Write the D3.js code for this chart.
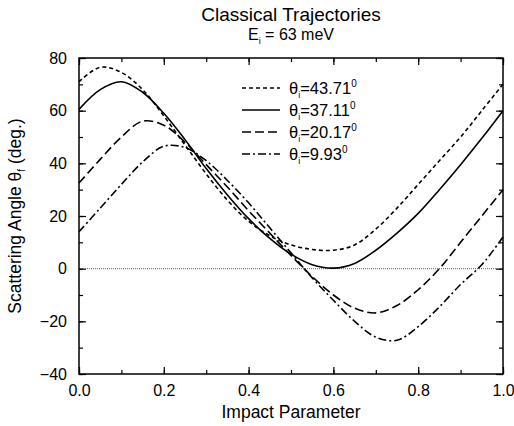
<!DOCTYPE html>
<html>
<head>
<meta charset="utf-8">
<script src="https://cdn.jsdelivr.net/npm/d3@7"></script>
<style>
  body { margin: 0; background: white; }
  text { font-family: "Liberation Sans", Arial, sans-serif; fill: #000; }
</style>
</head>
<body>
<div id="chart"></div>
<script>
// impact parameter samples
const impact = [0, 0.05, 0.1, 0.15, 0.2, 0.25, 0.3, 0.35, 0.4, 0.45, 0.5, 0.55, 0.6, 0.65, 0.7, 0.75, 0.8, 0.85, 0.9, 0.95, 1.0];

// scattering angle (deg.), one per incidence angle
const theta4371 = [71, 76.5, 74.5, 68, 58, 47, 36, 26, 18, 12.5, 9, 7.3, 7, 9, 15, 23, 32, 41, 50, 60, 70];
const theta3711 = [60.5, 68, 71, 67, 59, 49, 38, 28, 19, 11.5, 5.5, 1.5, 0.2, 2, 7, 13.5, 21, 30, 39.5, 49.5, 60];
const theta2017 = [32.5, 41.5, 50, 56, 54.5, 48, 39.5, 31, 22, 13.5, 5, -3, -10, -15, -16.8, -14, -8, 0, 10, 20, 30];
const theta993 = [14, 23, 32, 40.5, 46.5, 46, 41, 33.5, 25, 15.5, 6, -3.5, -12, -20, -26, -27.2, -22, -14.5, -6, 1.5, 12];

const seriesNames = ["43.71", "37.11", "20.17", "9.93"];
const seriesValues = [theta4371, theta3711, theta2017, theta993];
const dashes = ["4,3", null, "9,4", "8,3,2,3"];

const xTicks = [0, 0.2, 0.4, 0.6, 0.8, 1.0];
const yTicks = [-40, -20, 0, 20, 40, 60, 80];

const width = 514, height = 426;
const margin = {top: 58, right: 11, bottom: 52, left: 79};

const svg = d3.select("#chart").append("svg")
    .attr("width", width).attr("height", height);

const x = d3.scaleLinear().domain([0, 1]).range([margin.left, width - margin.right]);
const y = d3.scaleLinear().domain([-40, 80]).range([height - margin.bottom, margin.top]);

const xMinor = d3.range(0, 1.0001, 0.1);
const yMinor = d3.range(-40, 80.001, 10);

// ticks on all four sides, pointing inward
function tickAxis(axis, scale, vals, size, transform, labels) {
    const a = axis(scale).tickValues(vals).tickSize(-size).tickPadding(8);
    if (!labels) a.tickFormat("");
    const g = svg.append("g").attr("transform", transform).call(a);
    g.select(".domain").remove();
    g.selectAll("line").attr("stroke", "#000").attr("stroke-width", 1.2);
    return g;
}
const bottomY = height - margin.bottom, rightX = width - margin.right;
tickAxis(d3.axisBottom, x, xMinor, 4, `translate(0,${bottomY})`, false);
tickAxis(d3.axisTop, x, xMinor, 4, `translate(0,${margin.top})`, false);
tickAxis(d3.axisLeft, y, yMinor, 4, `translate(${margin.left},0)`, false);
tickAxis(d3.axisRight, y, yMinor, 4, `translate(${rightX},0)`, false);
const xa = tickAxis(d3.axisBottom, x, xTicks, 7, `translate(0,${bottomY})`, true);
xa.selectAll("text").style("font-size", "16px").attr("dy", "0.85em")
    .text(d => d3.format(".1f")(d));
tickAxis(d3.axisTop, x, xTicks, 7, `translate(0,${margin.top})`, false);
const ya = tickAxis(d3.axisLeft, y, yTicks, 7, `translate(${margin.left},0)`, true);
ya.selectAll("text").style("font-size", "16px").attr("x", -12);
tickAxis(d3.axisRight, y, yTicks, 7, `translate(${rightX},0)`, false);

// zero line
svg.append("line")
    .attr("x1", x(0)).attr("x2", x(1)).attr("y1", y(0)).attr("y2", y(0))
    .attr("stroke", "#666").attr("stroke-width", 1).attr("stroke-dasharray", "1,1");

// curves
const line = d3.line().curve(d3.curveCatmullRom)
    .x((d, i) => x(impact[i])).y(d => y(d));

svg.append("g").selectAll("path")
    .data(seriesValues).join("path")
    .attr("fill", "none").attr("stroke", "#000").attr("stroke-width", 1.6)
    .attr("stroke-dasharray", (d, i) => dashes[i])
    .attr("d", line);

// frame
svg.append("rect")
    .attr("x", margin.left).attr("y", margin.top)
    .attr("width", rightX - margin.left).attr("height", bottomY - margin.top)
    .attr("fill", "none").attr("stroke", "#000").attr("stroke-width", 1.5);

// legend
const legend = svg.append("g").selectAll("g")
    .data(seriesNames).join("g")
    .attr("transform", (d, i) => `translate(242,${88 + i * 22})`);
legend.append("line")
    .attr("x1", 0).attr("x2", 38)
    .attr("stroke", "#000").attr("stroke-width", 1.6)
    .attr("stroke-dasharray", (d, i) => dashes[i]);
const lt = legend.append("text").attr("x", 47).attr("y", 6).style("font-size", "16.5px");
lt.append("tspan").text("θ");
lt.append("tspan").text("i").attr("dy", 4).style("font-size", "9px");
lt.append("tspan").text(d => "=" + d).attr("dy", -4);
lt.append("tspan").text("0").attr("dy", -7).style("font-size", "10px");

// titles
const cx = (margin.left + rightX) / 2;
svg.append("text").attr("x", cx).attr("y", 21).attr("text-anchor", "middle")
    .style("font-size", "19px").text("Classical Trajectories");
const sub = svg.append("text").attr("x", cx).attr("y", 40).attr("text-anchor", "middle")
    .style("font-size", "16px");
sub.append("tspan").text("E");
sub.append("tspan").text("i").attr("dy", 4).style("font-size", "9px");
sub.append("tspan").text(" = 63 meV").attr("dy", -4);

svg.append("text").attr("x", cx).attr("y", 418).attr("text-anchor", "middle")
    .style("font-size", "17.5px").text("Impact Parameter");

const yt = svg.append("text")
    .attr("transform", `translate(21,${(margin.top + bottomY) / 2}) rotate(-90)`)
    .attr("text-anchor", "middle").style("font-size", "17.5px");
yt.append("tspan").text("Scattering Angle θ");
yt.append("tspan").text("f").attr("dy", 4).style("font-size", "10px");
yt.append("tspan").text(" (deg.)").attr("dy", -4);
</script>
</body>
</html>
